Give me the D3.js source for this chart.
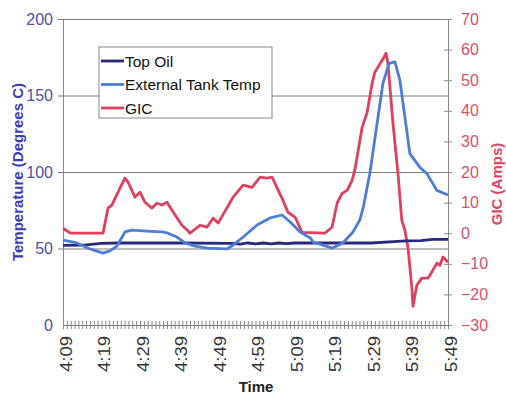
<!DOCTYPE html>
<meta charset="utf-8">
<style>

html, body {
  margin: 0;
  background: #fff;
}

svg {
  font-family: Arial, "Liberation Sans", sans-serif;
}

.grid line {
  stroke: #7a7a7a;
  stroke-width: 1px;
}

.series {
  fill: none;
  stroke-width: 2.8px;
  stroke-linejoin: round;
}

</style>

<body>
  <svg width="506" height="394"></svg>
</body>

<script src="https://cdn.jsdelivr.net/npm/d3@7"></script>
<script>

/* data: minutes after 4:09 */
var startLabel = "4:09"
var endMinute = 100

var oilMin  = [0, 6, 10, 14, 30, 44, 46, 48, 50, 52, 54, 56, 58, 60, 80, 86, 89, 93, 96, 100]
var oilTemp = [52, 52.3, 53.3, 53.6, 53.6, 53.4, 52.8, 53.6, 53, 53.6, 53, 53.6, 53.2, 53.6, 53.6, 54.5, 55, 55.2, 56, 56]

var extMin  = [0, 3.6, 7, 10.4, 12.2, 14, 16.1, 17.9, 21.8, 25.7, 27.3, 29.6, 31.7, 34.3, 37.4, 42.6, 44.2, 46.8, 50.4, 53.8, 56.9, 59, 61.6, 64.2, 65, 70, 72.7, 75.3, 77.1, 78, 79.7, 81.6, 83.1, 84.7, 86.2, 87.5, 88.8, 90.1, 92.7, 94.5, 97.1, 100]
var extTemp = [55.5, 53.6, 49.7, 47, 48.4, 51.6, 60.8, 62, 61.4, 60.8, 60, 57.5, 53.6, 51.6, 50.3, 49.7, 52.3, 57.5, 65.4, 70, 71.9, 67.3, 60.8, 56.9, 54.2, 50.3, 53.6, 60.8, 68.6, 77, 99, 132, 158, 171, 172, 160, 136, 112, 103, 99, 88, 85]

var gicMin  = [0, 2, 10.4, 11.7, 12.7, 14.8, 16.1, 16.9, 18.7, 20, 21.3, 23.1, 24.4, 25.7, 27, 28.6, 30.9, 32.5, 33, 35.6, 37.4, 39, 40.3, 44.2, 46.8, 49.1, 51.2, 53, 54.3, 56.9, 58.4, 60.3, 62.1, 68, 69.9, 71.2, 72.5, 73.8, 75.1, 75.8, 77.7, 79, 80.3, 81, 82.9, 83.9, 84.4, 85.7, 87, 88, 88.8, 89.6, 90.6, 90.9, 91.9, 93.2, 94.8, 96.1, 97.1, 97.9, 98.7, 100]
var gicAmps = [1.6, 0, 0, 8.2, 9.2, 14.7, 18, 16.7, 11.8, 13.4, 10.1, 8.2, 9.8, 9.2, 10.1, 6.9, 2.6, 0.7, 0, 2.6, 2, 4.9, 3.3, 11.8, 15.7, 15, 18.3, 18, 18.3, 11.4, 6.9, 5.2, 0.3, 0, 2, 9.8, 13, 14, 17.3, 20.6, 34.6, 39.5, 49, 52.6, 56.5, 58.8, 55.5, 36, 19.6, 4.2, 1, -4.6, -17.6, -23.9, -17, -14.7, -14.7, -12, -9.8, -10.5, -7.8, -9.5]

var tempTicks = [0, 50, 100, 150, 200]
var gicTicks = [-30, -20, -10, 0, 10, 20, 30, 40, 50, 60, 70]

var seriesNames = ["Top Oil", "External Tank Temp", "GIC"]
var seriesColors = ["#29297c", "#4d7dd4", "#e03f5d"]

/* scales */
var svg = d3.select("svg")
var t0 = d3.timeParse("%H:%M")(startLabel)
function toTime(m) { return new Date(+t0 + m * 60000) }

var x = d3.scaleTime().domain([t0, toTime(endMinute)]).range([63, 448])
var yL = d3.scaleLinear().domain([0, 200]).range([325, 19])
var yR = d3.scaleLinear().domain([-30, 70]).range([325, 19])

// gridlines
svg.append("g")
    .attr("class", "grid")
    .attr("transform", "translate(63,0)")
    .call(d3.axisLeft(yL).tickValues(tempTicks.slice(1)).tickSize(5).tickSizeInner(-385).tickFormat(""))
    .call(function(g) { g.select(".domain").remove() })
svg.selectAll(".grid .tick line").attr("x1", -5)

// left axis
var leftAxis = svg.append("g")
    .attr("transform", "translate(63,0)")
    .call(d3.axisLeft(yL).tickValues(tempTicks).tickSize(0).tickPadding(10))
leftAxis.select(".domain").attr("stroke", "#8a8a8a")
leftAxis.selectAll("text")
    .attr("fill", "#4f4fa3")
    .attr("font-size", "16px")

// right axis
var rightAxis = svg.append("g")
    .attr("transform", "translate(448,0)")
    .call(d3.axisRight(yR).tickValues(gicTicks).tickSize(4).tickPadding(9))
rightAxis.select(".domain").attr("stroke", "#8a8a8a")
rightAxis.selectAll(".tick line").attr("x1", -4).attr("stroke", "#8a8a8a")
rightAxis.selectAll("text")
    .attr("fill", "#d9506c")
    .attr("font-size", "16px")

// bottom axis: minute ticks, labels every 10 minutes
var minuteTicks = d3.range(0, endMinute + 1).map(toTime)
var labelTicks = d3.range(0, endMinute + 1, 10).map(toTime)
var fmt = d3.timeFormat("%-H:%M")

var bottomMinor = svg.append("g")
    .attr("transform", "translate(0,325)")
    .call(d3.axisBottom(x).tickValues(minuteTicks).tickSize(4).tickFormat(""))
bottomMinor.select(".domain").attr("stroke", "#777")
bottomMinor.selectAll(".tick line").attr("y1", -4).attr("stroke", "#888")

svg.append("g")
  .selectAll("text")
  .data(labelTicks)
  .enter().append("text")
    .attr("transform", function(d) { return "translate(" + (x(d) + 3) + ",336) rotate(-90)" })
    .attr("text-anchor", "end")
    .attr("dy", "0.36em")
    .attr("font-size", "16px")
    .attr("fill", "#333")
    .attr("textLength", 36)
    .attr("lengthAdjust", "spacingAndGlyphs")
    .text(fmt)

// axis titles
svg.append("text")
    .attr("transform", "translate(23,172) rotate(-90)")
    .attr("text-anchor", "middle")
    .attr("font-size", "15px")
    .attr("font-weight", "bold")
    .attr("fill", "#3d3dae")
    .text("Temperature (Degrees C)")

svg.append("text")
    .attr("transform", "translate(502,184) rotate(-90)")
    .attr("text-anchor", "middle")
    .attr("font-size", "15px")
    .attr("font-weight", "bold")
    .attr("fill", "#dc4563")
    .text("GIC (Amps)")

svg.append("text")
    .attr("x", 256)
    .attr("y", 392)
    .attr("text-anchor", "middle")
    .attr("font-size", "15px")
    .attr("font-weight", "bold")
    .attr("fill", "#222")
    .text("Time")

// lines
function pairs(ms, vs) {
  return ms.map(function(m, i) { return [toTime(m), vs[i]] })
}

var lineL = d3.line().x(function(d) { return x(d[0]) }).y(function(d) { return yL(d[1]) })
var lineR = d3.line().x(function(d) { return x(d[0]) }).y(function(d) { return yR(d[1]) })

svg.append("path")
    .attr("class", "series")
    .attr("stroke", seriesColors[2])
    .attr("d", lineR(pairs(gicMin, gicAmps)))

svg.append("path")
    .attr("class", "series")
    .attr("stroke", seriesColors[0])
    .attr("d", lineL(pairs(oilMin, oilTemp)))

svg.append("path")
    .attr("class", "series")
    .attr("stroke", seriesColors[1])
    .attr("d", lineL(pairs(extMin, extTemp)))

// legend
var legend = svg.append("g").attr("transform", "translate(99,47)")
legend.append("rect")
    .attr("width", 173)
    .attr("height", 71)
    .attr("fill", "#fff")
    .attr("stroke", "#888")

var item = legend.selectAll(".item")
  .data(seriesNames)
  .enter().append("g")
    .attr("transform", function(d, i) { return "translate(0," + (14 + i * 23.5) + ")" })

item.append("line")
    .attr("x1", 2).attr("x2", 25)
    .attr("stroke", function(d, i) { return seriesColors[i] })
    .attr("stroke-width", 2.8)

item.append("text")
    .attr("x", 26)
    .attr("dy", "0.36em")
    .attr("font-size", "15.5px")
    .attr("fill", "#111")
    .text(function(d) { return d })

</script>
